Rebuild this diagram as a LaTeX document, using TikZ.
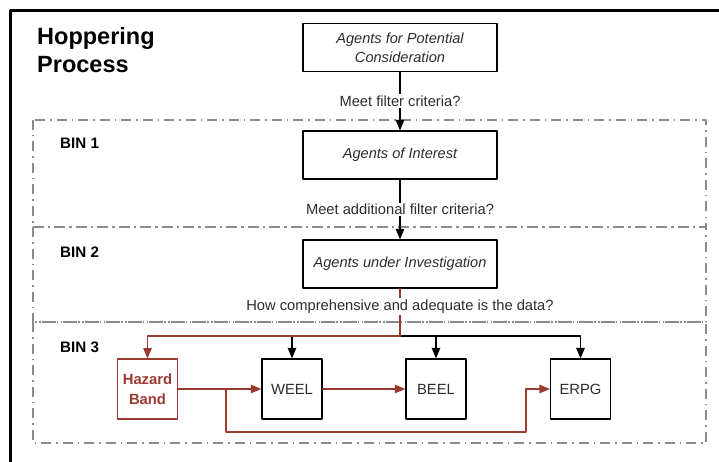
\documentclass[tikz,border=0pt]{standalone}
\usepackage{fontspec}
\setmainfont{Liberation Sans}
\usepackage{tikz}
\usetikzlibrary{arrows}
\definecolor{hzred}{RGB}{155,58,46}
\definecolor{bingray}{RGB}{140,140,140}
\definecolor{txtgray}{RGB}{45,45,45}

\begin{document}
\begin{tikzpicture}[x=1pt,y=-1pt,line cap=round,line join=round,>=triangle 45,
    box/.style={draw,line width=1.4pt,minimum width=194pt,minimum height=48pt,inner sep=0pt,align=center,text=txtgray,font=\fontsize{14.6}{19}\selectfont\itshape},
    sqbox/.style={draw,line width=1.4pt,minimum width=60pt,minimum height=60pt,inner sep=0pt,align=center,text=txtgray,font=\fontsize{14.8}{19}\selectfont},
    hzbox/.style={sqbox,draw=hzred,line width=1.1pt,text=hzred,font=\fontsize{14.8}{20}\selectfont\bfseries},
    lbl/.style={fill=white,inner sep=1.5pt,text=txtgray,font=\fontsize{14.7}{17}\selectfont},
    binlbl/.style={inner sep=0pt,anchor=base west,font=\fontsize{15.2}{18}\selectfont\bfseries},
    bin/.style={draw=bingray,line width=1.2pt,line cap=butt,dash pattern=on 10pt off 5pt on 1.5pt off 5pt},
    conn/.style={line width=1.4pt},
    hz/.style={conn,draw=hzred}]
        \useasboundingbox (0,0) rectangle (719,462);
        \draw [line width=3pt,line cap=butt] (10,462) -- (10,11) -- (719,11);
        % bins
        \draw [bin] (33,120) rectangle (706,227);
        \draw [bin] (33,227) rectangle (706,322);
        \draw [bin] (33,322) rectangle (706,443);
        \node [binlbl] (bin1) at (60,149) {BIN 1};
        \node [binlbl] (bin2) at (60,257) {BIN 2};
        \node [binlbl] (bin3) at (60,352) {BIN 3};
        % title
        \node [inner sep=0pt,anchor=base west,font=\fontsize{23.5}{28}\selectfont\bfseries] (title1) at (37,45) {Hoppering};
        \node [inner sep=0pt,anchor=base west,font=\fontsize{23.5}{28}\selectfont\bfseries] (title2) at (37,73) {Process};
        % main column
        \node [box] (potential) at (400,47.5) {Agents for Potential\\Consideration};
        \node [box] (interest) at (400,155) {Agents of Interest};
        \node [box] (investig) at (400,264) {Agents under Investigation};
        \draw [conn,->] (potential) -- node[lbl] {Meet filter criteria?} (interest);
        \draw [conn,->] (interest) -- node[lbl] {Meet additional filter criteria?} (investig);
        % bin 3
        \node [hzbox] (hazard) at (147.5,389) {Hazard\\Band};
        \node [sqbox] (weel) at (292,389) {WEEL};
        \node [sqbox] (beel) at (436,389) {BEEL};
        \node [sqbox] (erpg) at (580.5,389) {ERPG};
        \coordinate (fork) at (400,336);
        \coordinate (split) at (226,389);
        \coordinate (bend) at (526,432);
        \draw [conn,->] (fork) -| (weel);
        \draw [conn,->] (fork) -| (beel);
        \draw [conn,->] (fork) -| (erpg);
        \draw [hz] (investig) -- node[lbl,pos=0.38] {How comprehensive and adequate is the data?} (fork);
        \draw [hz,->] (fork) -| (hazard);
        \draw [hz,->] (hazard) -- (weel);
        \draw [hz,->] (weel) -- (beel);
        \draw [hz,->] (split) |- (bend) |- (erpg);
\end{tikzpicture}
\end{document}
